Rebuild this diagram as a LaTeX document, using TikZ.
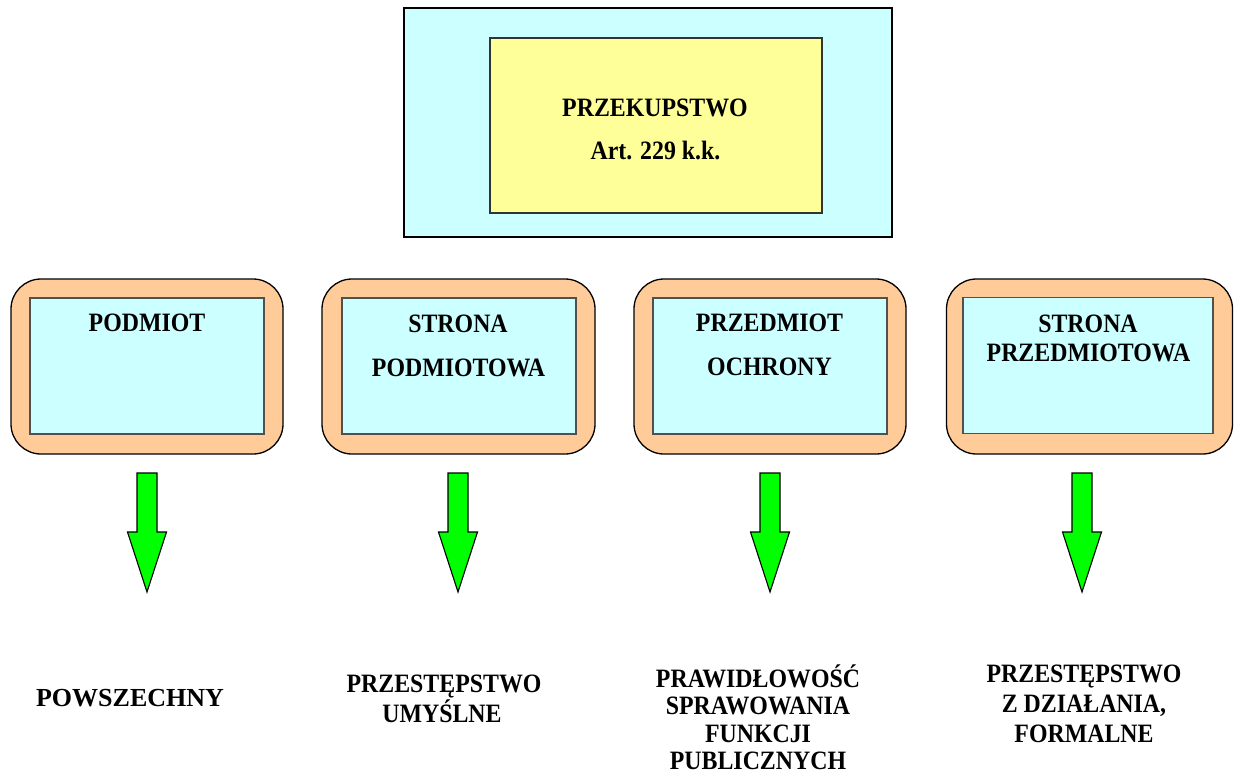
\documentclass[tikz,border=0pt]{standalone}
\usepackage{fontspec}
\setmainfont{Liberation Serif}
\newfontfamily\cam[FakeStretch=0.9]{Liberation Serif}
\definecolor{lcyan}{HTML}{CCFFFF}
\definecolor{lyellow}{HTML}{FFFF99}
\definecolor{peach}{HTML}{FFCC99}
\definecolor{arrgreen}{HTML}{00FF00}
\definecolor{innerline}{HTML}{505050}
\tikzset{
  outerbox/.style={draw=black, line width=1.3pt, fill=peach, rounded corners=30pt, minimum height=175pt, inner sep=0pt},
  innerbox/.style={draw=innerline, line width=1.2pt, fill=lcyan, minimum height=136pt, inner sep=0pt},
  lbl/.style={anchor=base, inner sep=0pt, font=\cam\bfseries\fontsize{26.5}{30}\selectfont},
  tlbl/.style={anchor=base, inner sep=0pt, font=\bfseries\fontsize{26}{30}\selectfont},
  arrowstyle/.style={draw=black, line width=1.1pt, fill=arrgreen, line join=miter},
  downarr/.pic={\draw[arrowstyle] (-10,0) -- (10,0) -- (10,59) -- (19.5,59) -- (0,119) -- (-19.5,59) -- (-10,59) -- cycle;}
}
\begin{document}
\begin{tikzpicture}[x=1pt,y=-1pt]
\useasboundingbox (0,0) rectangle (1234,777);
% top
\node[draw=black, line width=1.4pt, fill=lcyan, minimum width=488pt, minimum height=229pt, inner sep=0pt] (top) at (648,122.5) {};
\node[draw=black!80, line width=1.2pt, fill=lyellow, minimum width=332pt, minimum height=175pt, inner sep=0pt] (topin) at (656,125.5) {};
\node[lbl] (t1) at (655,116) {PRZEKUPSTWO};
\node[lbl] (t2) at (655.5,159) {Art. 229 k.k.};
% boxes
\node[outerbox, minimum width=272pt] (o1) at (147,366.5) {};
\node[innerbox, minimum width=234pt] (i1) at (147,366) {};
\node[lbl] (b1a) at (147,331) {PODMIOT};
\node[outerbox, minimum width=273pt] (o2) at (458.5,366.5) {};
\node[innerbox, minimum width=234pt] (i2) at (459,366) {};
\node[lbl] (b2a) at (458,332) {STRONA};
\node[lbl] (b2b) at (458.5,376) {PODMIOTOWA};
\node[outerbox, minimum width=272pt] (o3) at (770,366.5) {};
\node[innerbox, minimum width=234pt] (i3) at (770,366) {};
\node[lbl] (b3a) at (769.5,331) {PRZEDMIOT};
\node[lbl] (b3b) at (769.5,375) {OCHRONY};
\node[outerbox, minimum width=286pt] (o4) at (1089.5,366.5) {};
\node[innerbox, minimum width=250pt] (i4) at (1088,365.5) {};
\node[lbl] (b4a) at (1088,332) {STRONA};
\node[lbl] (b4b) at (1088.5,361) {PRZEDMIOTOWA};
% arrows
\coordinate (a1) at (147,473);
\coordinate (a2) at (458,473);
\coordinate (a3) at (770,473);
\coordinate (a4) at (1082,473);
\pic at (a1) {downarr};
\pic at (a2) {downarr};
\pic at (a3) {downarr};
\pic at (a4) {downarr};
% bottom texts
\node[tlbl] (c1) at (130,706) {POWSZECHNY};
\node[lbl] (c2a) at (444,692) {PRZESTĘPSTWO};
\node[lbl] (c2b) at (442,722) {UMYŚLNE};
\node[lbl] (c3a) at (758,687) {PRAWIDŁOWOŚĆ};
\node[lbl] (c3b) at (758,714) {SPRAWOWANIA};
\node[lbl] (c3c) at (758,742) {FUNKCJI};
\node[lbl] (c3d) at (758,769) {PUBLICZNYCH};
\node[lbl] (c4a) at (1084,682) {PRZESTĘPSTWO};
\node[lbl] (c4b) at (1084,712) {Z DZIAŁANIA,};
\node[lbl] (c4c) at (1084,742) {FORMALNE};
\end{tikzpicture}
\end{document}
